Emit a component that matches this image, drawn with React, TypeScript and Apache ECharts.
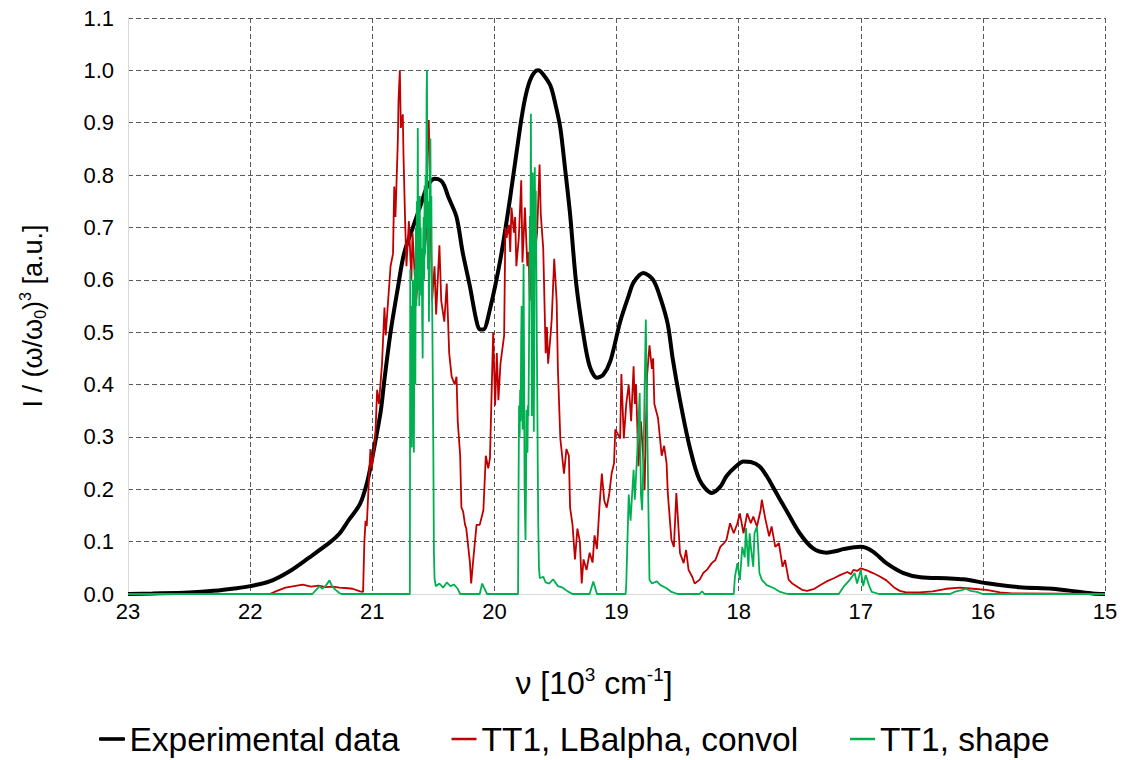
import React, { useEffect, useRef } from "react";
import * as echarts from "echarts";

// Series names
const seriesNames = ["Experimental data", "TT1, LBalpha, convol", "TT1, shape"];

// Axis ranges
const xMin = 15;
const xMax = 23;
const yMin = 0;
const yMax = 1.1;

// Experimental data [wavenumber (10^3 cm^-1), intensity]
const expData: number[][] = [
  [23.0, 0.0], [22.8, 0.001], [22.5, 0.003], [22.3, 0.006], [22.11, 0.011], [22.0, 0.015],
  [21.84, 0.024], [21.68, 0.043], [21.52, 0.069], [21.35, 0.098], [21.27, 0.115], [21.19, 0.142],
  [21.1, 0.172], [21.04, 0.215], [21.0, 0.26], [20.97, 0.297], [20.93, 0.35], [20.9, 0.41],
  [20.85, 0.5], [20.79, 0.585], [20.74, 0.65], [20.66, 0.705], [20.6, 0.745], [20.55, 0.778],
  [20.49, 0.793], [20.44, 0.79], [20.41, 0.78], [20.38, 0.76], [20.31, 0.72], [20.26, 0.653],
  [20.2, 0.587], [20.15, 0.525], [20.12, 0.505], [20.09, 0.505], [20.04, 0.54], [19.95, 0.64],
  [19.87, 0.758], [19.79, 0.89], [19.75, 0.945], [19.71, 0.98], [19.67, 0.997], [19.64, 1.0],
  [19.6, 0.992], [19.54, 0.97], [19.5, 0.935], [19.46, 0.89], [19.42, 0.81], [19.38, 0.725],
  [19.33, 0.593], [19.27, 0.494], [19.22, 0.435], [19.16, 0.413], [19.11, 0.418], [19.05, 0.445],
  [18.97, 0.52], [18.9, 0.57], [18.86, 0.595], [18.78, 0.613], [18.7, 0.6], [18.64, 0.565],
  [18.58, 0.515], [18.54, 0.45], [18.48, 0.37], [18.4, 0.28], [18.32, 0.218], [18.22, 0.193],
  [18.15, 0.205], [18.1, 0.225], [18.03, 0.242], [17.96, 0.253], [17.9, 0.252], [17.83, 0.244],
  [17.77, 0.225], [17.72, 0.205], [17.66, 0.18], [17.61, 0.16], [17.5, 0.116], [17.39, 0.087],
  [17.28, 0.079], [17.2, 0.082], [17.14, 0.086], [17.0, 0.09], [16.9, 0.081], [16.79, 0.059],
  [16.65, 0.04], [16.51, 0.032], [16.3, 0.03], [16.16, 0.028], [15.95, 0.02], [15.7, 0.013],
  [15.43, 0.01], [15.24, 0.005], [15.1, 0.001], [15.0, 0.0],
];

// TT1, LBalpha, convol
const convolData: number[][] = [
  [23, 0], [21.84, 0], [21.78, 0.006], [21.71, 0.012], [21.64, 0.015], [21.57, 0.018], [21.5, 0.014],
  [21.44, 0.016], [21.38, 0.013], [21.32, 0.014], [21.27, 0.012], [21.2, 0.011], [21.16, 0.01],
  [21.1, 0.005], [21.075, 0.004], [21.065, 0.097], [21.055, 0.14], [21.045, 0.13], [21.03, 0.205],
  [21.015, 0.277], [21.005, 0.24], [20.99, 0.264], [20.975, 0.3], [20.96, 0.39], [20.945, 0.363],
  [20.92, 0.44], [20.9, 0.547], [20.89, 0.494], [20.86, 0.593], [20.85, 0.626], [20.83, 0.65],
  [20.82, 0.778], [20.81, 0.72], [20.79, 0.87], [20.785, 0.943], [20.774, 1.0], [20.766, 0.89],
  [20.75, 0.916], [20.744, 0.837], [20.73, 0.705], [20.72, 0.626], [20.7, 0.712], [20.68, 0.6],
  [20.67, 0.69], [20.656, 0.626], [20.64, 0.56], [20.61, 0.653], [20.59, 0.6], [20.56, 0.68],
  [20.545, 0.89], [20.537, 0.905], [20.526, 0.758], [20.51, 0.56], [20.49, 0.626], [20.477, 0.534],
  [20.45, 0.666], [20.435, 0.56], [20.41, 0.52], [20.39, 0.593], [20.37, 0.46], [20.35, 0.415],
  [20.325, 0.4], [20.31, 0.415], [20.3, 0.33], [20.28, 0.264], [20.27, 0.165], [20.256, 0.158],
  [20.24, 0.132], [20.23, 0.125], [20.2, 0.06], [20.19, 0.02], [20.17, 0.073], [20.146, 0.132],
  [20.12, 0.132], [20.09, 0.16], [20.07, 0.264], [20.05, 0.24], [20.036, 0.26], [20.01, 0.5],
  [19.994, 0.36], [19.98, 0.46], [19.967, 0.37], [19.95, 0.44], [19.92, 0.494], [19.91, 0.7],
  [19.9, 0.68], [19.88, 0.705], [19.87, 0.653], [19.86, 0.738], [19.84, 0.69], [19.83, 0.72],
  [19.82, 0.626], [19.8, 0.68], [19.78, 0.79], [19.77, 0.633], [19.75, 0.738], [19.73, 0.626],
  [19.72, 0.653], [19.71, 0.56], [19.69, 0.758], [19.68, 0.626], [19.65, 0.69], [19.63, 0.82],
  [19.62, 0.725], [19.6, 0.66], [19.58, 0.46], [19.57, 0.51], [19.56, 0.44], [19.54, 0.494],
  [19.53, 0.527], [19.51, 0.64], [19.49, 0.56], [19.48, 0.43], [19.46, 0.297], [19.43, 0.23],
  [19.41, 0.277], [19.39, 0.264], [19.38, 0.165], [19.36, 0.132], [19.34, 0.066], [19.32, 0.125],
  [19.3, 0.1], [19.285, 0.02], [19.27, 0.066], [19.245, 0.046], [19.22, 0.079], [19.196, 0.06],
  [19.18, 0.112], [19.16, 0.086], [19.14, 0.165], [19.12, 0.23], [19.1, 0.178], [19.08, 0.165],
  [19.06, 0.19], [19.04, 0.23], [19.02, 0.25], [19.01, 0.314], [19.0, 0.31], [18.97, 0.297],
  [18.96, 0.42], [18.94, 0.297], [18.92, 0.363], [18.9, 0.4], [18.88, 0.33], [18.86, 0.435],
  [18.85, 0.363], [18.84, 0.4], [18.82, 0.244], [18.8, 0.33], [18.78, 0.257], [18.77, 0.198],
  [18.75, 0.415], [18.73, 0.475], [18.71, 0.43], [18.7, 0.45], [18.69, 0.363], [18.66, 0.336],
  [18.63, 0.264], [18.61, 0.283], [18.59, 0.25], [18.58, 0.193], [18.55, 0.103], [18.53, 0.09],
  [18.51, 0.193], [18.48, 0.078], [18.45, 0.059], [18.43, 0.084], [18.41, 0.046], [18.38, 0.033],
  [18.36, 0.02], [18.32, 0.027], [18.29, 0.04], [18.26, 0.046], [18.22, 0.059], [18.19, 0.065],
  [18.15, 0.09], [18.12, 0.097], [18.1, 0.103], [18.07, 0.135], [18.04, 0.116], [18.01, 0.135],
  [17.99, 0.154], [17.96, 0.116], [17.93, 0.154], [17.9, 0.135], [17.88, 0.148], [17.85, 0.129],
  [17.82, 0.16], [17.81, 0.18], [17.78, 0.142], [17.75, 0.11], [17.73, 0.129], [17.7, 0.09],
  [17.67, 0.097], [17.64, 0.052], [17.62, 0.065], [17.59, 0.027], [17.56, 0.02], [17.52, 0.014],
  [17.48, 0.008], [17.44, 0.006], [17.38, 0.01], [17.33, 0.017], [17.28, 0.024], [17.22, 0.03],
  [17.17, 0.036], [17.11, 0.042], [17.08, 0.038], [17.06, 0.046], [17.03, 0.044], [17.0, 0.049],
  [16.95, 0.045], [16.9, 0.04], [16.84, 0.033], [16.79, 0.026], [16.73, 0.013], [16.68, 0.006],
  [16.63, 0.003], [16.52, 0.003], [16.41, 0.005], [16.3, 0.01], [16.19, 0.012], [16.08, 0.01],
  [15.97, 0.008], [15.86, 0.003], [15.76, 0.001], [15.0, 0],
];

// TT1, shape
const shapeData: number[][] = [
  [23, 0], [21.49, 0], [21.46, 0.008], [21.43, 0.015], [21.41, 0.01], [21.38, 0.016], [21.35, 0.026],
  [21.33, 0.015], [21.3, 0.008], [21.27, 0.002], [21.25, 0], [20.692, 0], [20.689, 0.62],
  [20.684, 0.3], [20.68, 0.55], [20.676, 0.28], [20.671, 0.38], [20.667, 0.6], [20.663, 0.45],
  [20.659, 0.27], [20.655, 0.5], [20.651, 0.62], [20.647, 0.4], [20.643, 0.7], [20.639, 0.55],
  [20.635, 0.75], [20.631, 0.6], [20.627, 0.89], [20.623, 0.58], [20.619, 0.72], [20.615, 0.55],
  [20.611, 0.76], [20.607, 0.62], [20.603, 0.7], [20.599, 0.57], [20.595, 0.66], [20.591, 0.52],
  [20.587, 0.45], [20.583, 0.68], [20.579, 0.72], [20.575, 0.6], [20.571, 0.78], [20.567, 0.65],
  [20.563, 0.8], [20.559, 0.7], [20.555, 0.95], [20.552, 1.0], [20.548, 0.7], [20.544, 0.62],
  [20.54, 0.75], [20.536, 0.52], [20.532, 0.66], [20.528, 0.8], [20.524, 0.87], [20.52, 0.7],
  [20.516, 0.76], [20.512, 0.6], [20.508, 0.52], [20.504, 0.4], [20.5, 0.28], [20.495, 0.08],
  [20.49, 0.03], [20.48, 0.015], [20.45, 0.02], [20.42, 0.012], [20.39, 0.022], [20.36, 0.015],
  [20.33, 0.018], [20.3, 0.01], [20.28, 0], [20.12, 0], [20.1, 0.02], [20.08, 0.01], [20.06, 0],
  [19.806, 0], [19.802, 0.2], [19.798, 0.36], [19.793, 0.3], [19.789, 0.39], [19.785, 0.33],
  [19.781, 0.48], [19.777, 0.55], [19.773, 0.42], [19.769, 0.314], [19.765, 0.5], [19.761, 0.63],
  [19.757, 0.45], [19.753, 0.212], [19.749, 0.15], [19.745, 0.103], [19.741, 0.2], [19.737, 0.352],
  [19.733, 0.3], [19.729, 0.27], [19.725, 0.36], [19.721, 0.34], [19.717, 0.45], [19.713, 0.6],
  [19.709, 0.722], [19.705, 0.65], [19.701, 0.917], [19.697, 0.6], [19.693, 0.34], [19.689, 0.55],
  [19.685, 0.805], [19.681, 0.6], [19.677, 0.31], [19.673, 0.5], [19.669, 0.815], [19.665, 0.7],
  [19.661, 0.77], [19.657, 0.65], [19.653, 0.5], [19.649, 0.39], [19.645, 0.25], [19.641, 0.14],
  [19.635, 0.05], [19.628, 0.03], [19.6, 0.033], [19.58, 0.022], [19.55, 0.02], [19.52, 0.028],
  [19.48, 0.015], [19.44, 0.012], [19.4, 0.005], [19.36, 0], [19.22, 0], [19.19, 0.024],
  [19.16, 0], [18.925, 0], [18.92, 0.02], [18.9, 0.19], [18.885, 0.14], [18.86, 0.237],
  [18.85, 0.18], [18.83, 0.27], [18.81, 0.384], [18.8, 0.19], [18.79, 0.16], [18.78, 0.25],
  [18.76, 0.524], [18.75, 0.346], [18.74, 0.186], [18.73, 0.027], [18.71, 0.02], [18.67, 0.024],
  [18.64, 0.017], [18.59, 0.011], [18.55, 0.004], [18.5, 0], [18.32, 0], [18.3, 0.005], [18.28, 0],
  [18.04, 0], [18.03, 0.033], [18.01, 0.059], [17.99, 0.027], [17.97, 0.09], [17.95, 0.07],
  [17.94, 0.126], [17.92, 0.052], [17.91, 0.116], [17.9, 0.09], [17.88, 0.052], [17.87, 0.116],
  [17.85, 0.129], [17.84, 0.09], [17.83, 0.04], [17.81, 0.027], [17.77, 0.017], [17.71, 0.011],
  [17.66, 0.004], [17.6, 0], [17.18, 0], [17.14, 0.014], [17.09, 0.027], [17.05, 0.04],
  [17.03, 0.02], [17.0, 0.046], [16.98, 0.015], [16.96, 0.036], [16.93, 0.015], [16.91, 0.004],
  [16.85, 0], [16.27, 0], [16.22, 0.005], [16.18, 0.007], [16.14, 0.01], [16.1, 0.006],
  [16.05, 0.004], [16.0, 0], [15, 0],
];

// Axis titles (rich text)
const xTitle = "{n|ν [10}{sup|3}{n| cm}{sup|-1}{n|]}";
const yTitle = "{n|I / (ω/ω}{sub|0}{n|)}{sup|3}{n| [a.u.]}";

const FONT = "'Liberation Sans', Arial, sans-serif";

export default function App() {
  const ref = useRef<HTMLDivElement>(null);

  useEffect(() => {
    if (!ref.current) return;
    const chart = echarts.init(ref.current, null, { renderer: "svg" });
    const gridColor = "#595959";
    const titleRich = (size: number) => ({
      n: { fontSize: size, fill: "#000", color: "#000", fontFamily: FONT, lineHeight: size + 4 },
      sup: {
        fontSize: Math.round(size * 0.6), fill: "#000", color: "#000", fontFamily: FONT,
        lineHeight: size + 4, verticalAlign: "top",
      },
      sub: {
        fontSize: Math.round(size * 0.6), fill: "#000", color: "#000", fontFamily: FONT,
        lineHeight: size + 4, verticalAlign: "bottom",
      },
    });
    chart.setOption({
      animation: false,
      backgroundColor: "#ffffff",
      textStyle: { fontFamily: FONT },
      grid: { left: 128, right: 17, top: 18, bottom: 166, containLabel: false },
      legend: {
        data: [
          { name: seriesNames[0], icon: "rect", itemStyle: { borderColor: "#000", borderWidth: 1 } },
          { name: seriesNames[1], icon: "rect" },
          { name: seriesNames[2], icon: "rect" },
        ],
        left: 99,
        top: 721,
        padding: 0,
        itemWidth: 25,
        itemHeight: 2.5,
        itemGap: 52,
        textStyle: { fontSize: 33.5, color: "#000", fontFamily: FONT, lineHeight: 36 },
      },
      graphic: [
        {
          type: "text",
          x: 594,
          y: 683,
          style: { text: xTitle, rich: titleRich(32), align: "center", verticalAlign: "middle" },
        },
        {
          type: "text",
          x: 33,
          y: 316,
          rotation: Math.PI / 2,
          style: { text: yTitle, rich: titleRich(27), align: "center", verticalAlign: "middle" },
        },
      ],
      xAxis: {
        type: "value",
        min: xMin,
        max: xMax,
        interval: 1,
        inverse: true,
        axisLine: { show: true, onZero: false, lineStyle: { color: "#d9d9d9", width: 1 } },
        axisTick: { show: false },
        axisLabel: { fontSize: 22, color: "#000", margin: 6, fontFamily: FONT },
        splitLine: { show: true, lineStyle: { color: gridColor, type: [5, 3], width: 1 } },
      },
      yAxis: {
        type: "value",
        min: yMin,
        max: yMax,
        interval: 0.1,
        axisLine: { show: true, onZero: false, lineStyle: { color: "#d9d9d9", width: 1 } },
        axisTick: { show: false },
        axisLabel: {
          fontSize: 22,
          color: "#000",
          margin: 14,
          fontFamily: FONT,
          formatter: (v: number) => v.toFixed(1),
        },
        splitLine: { show: true, lineStyle: { color: gridColor, type: [5, 3], width: 1 } },
      },
      series: [
        {
          name: seriesNames[0],
          type: "line",
          data: expData,
          showSymbol: false,
          symbol: "none",
          smooth: 0.3,
          lineStyle: { color: "#000000", width: 4 },
          itemStyle: { color: "#000000" },
          z: 2,
        },
        {
          name: seriesNames[1],
          type: "line",
          data: convolData,
          showSymbol: false,
          symbol: "none",
          lineStyle: { color: "#C00000", width: 1.8 },
          itemStyle: { color: "#C00000" },
          z: 3,
        },
        {
          name: seriesNames[2],
          type: "line",
          data: shapeData,
          showSymbol: false,
          symbol: "none",
          lineStyle: { color: "#00B050", width: 1.8 },
          itemStyle: { color: "#00B050" },
          z: 4,
        },
      ],
    });
    return () => chart.dispose();
  }, []);

  return (
    <div
      ref={ref}
      style={{ position: "fixed", left: 0, top: 0, width: 1122, height: 760 }}
    />
  );
}
